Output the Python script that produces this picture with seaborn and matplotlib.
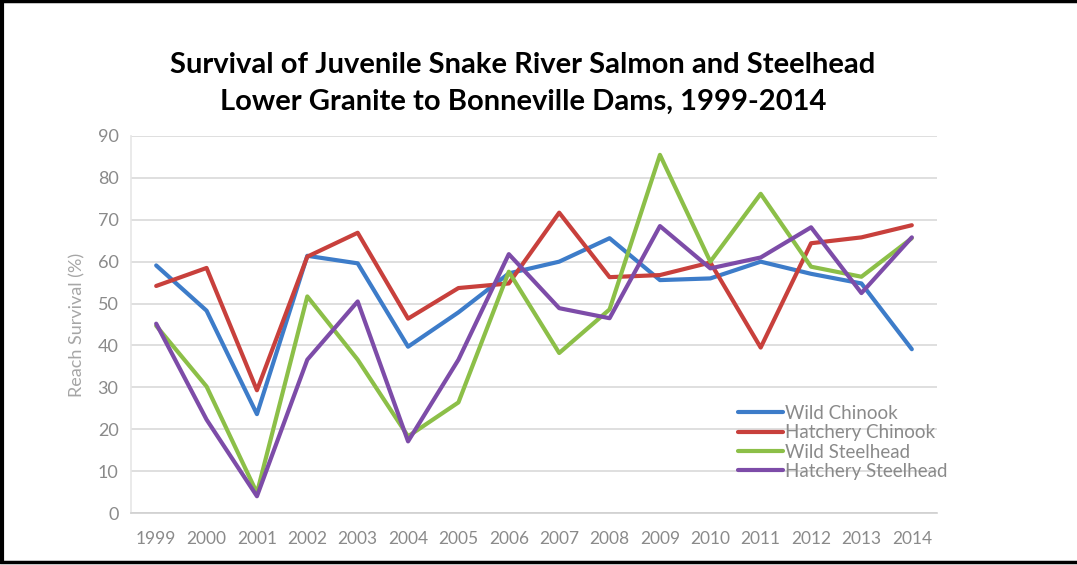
import matplotlib
matplotlib.use("Agg")
import matplotlib.pyplot as plt
import seaborn as sns
import pandas as pd
from matplotlib.lines import Line2D

years = [str(y) for y in range(1999, 2015)]
wild_chinook = [59.1, 48.3, 23.6, 61.4, 59.6, 39.7, 47.9, 57.2, 60.0, 65.6, 55.6, 56.0, 60.0, 57.1, 54.8, 39.1]
hatchery_chinook = [54.2, 58.5, 29.3, 61.2, 66.9, 46.4, 53.7, 54.8, 71.7, 56.3, 56.8, 59.8, 39.5, 64.4, 65.8, 68.7]
wild_steelhead = [44.7, 30.2, 4.8, 51.7, 36.6, 18.3, 26.4, 57.6, 38.2, 48.6, 85.5, 60.0, 76.2, 58.8, 56.4, 65.6]
hatchery_steelhead = [45.2, 22.3, 4.0, 36.6, 50.5, 17.1, 36.6, 61.8, 48.9, 46.5, 68.5, 58.4, 61.0, 68.2, 52.5, 65.8]
series_names = ["Wild Chinook", "Hatchery Chinook", "Wild Steelhead", "Hatchery Steelhead"]
colors = ["#3D7CC9", "#C8403C", "#8CBF48", "#7D4CA8"]

frames = []
for name, vals in zip(series_names, [wild_chinook, hatchery_chinook, wild_steelhead, hatchery_steelhead]):
    frames.append(pd.DataFrame({"Year": years, "Survival": vals, "Series": name}))
df = pd.concat(frames, ignore_index=True)

sns.set_style("white")
plt.rcParams['font.family'] = ['Lato', 'DejaVu Sans']

fig = plt.figure(figsize=(10.77, 5.65), dpi=100)
ax = fig.add_axes([131/1077, 1-513/565, (937-131)/1077, (513-136)/565])

sns.lineplot(data=df, x="Year", y="Survival", hue="Series", hue_order=series_names,
             palette=colors, linewidth=3, ax=ax, legend=False, sort=False, zorder=3)

ax.set_xlim(-0.5, 15.5)
ax.set_ylim(0, 90)
ax.set_yticks(range(0, 91, 10))
ax.yaxis.grid(True, color="#D9D9D9", linewidth=1.2, zorder=0)
ax.set_axisbelow(True)
for s in ["top", "right"]:
    ax.spines[s].set_visible(False)
ax.spines["bottom"].set_color("#D0D0D0")
ax.spines["bottom"].set_linewidth(1.2)
ax.spines["left"].set_color("#E6E6E6")
ax.spines["left"].set_linewidth(1.2)

# x ticks: labels at centers, tick marks at boundaries
ax.set_xticks(range(16))
ax.set_xticklabels(years)
ax.set_xticks([i - 0.5 for i in range(17)], minor=True)
ax.tick_params(axis="x", which="major", length=0, pad=13, labelsize=12.5, labelcolor="#8A8A8A")
ax.tick_params(axis="x", which="minor", length=6, width=1.2, color="#D0D0D0", direction="out")
ax.tick_params(axis="y", length=0, pad=9, labelsize=13, labelcolor="#8A8A8A")

ax.set_xlabel("")
ax.set_ylabel("Reach Survival (%)", color="#A6A6A6", fontsize=13, labelpad=9)

handles = [Line2D([0], [0], color=c, linewidth=3) for c in colors]
leg = ax.legend(handles, series_names, loc="upper left", bbox_to_anchor=(607/806, 1-(405-136)/377),
                frameon=False, handlelength=2.4, handletextpad=0.1, labelspacing=0.12,
                prop={"size": 13.5}, borderaxespad=0, borderpad=0)
for t in leg.get_texts():
    t.set_color("#8A8A8A")

fig.text(523/1077, 1-65/565, "Survival of Juvenile Snake River Salmon and Steelhead",
         ha="center", va="center", fontsize=21, fontweight="bold", color="black")
fig.text(523/1077, 1-102/565, "Lower Granite to Bonneville Dams, 1999-2014",
         ha="center", va="center", fontsize=21, fontweight="bold", color="black")

# outer border (top, left, bottom)
fig.add_artist(Line2D([0, 1], [1-1/565, 1-1/565], color="black", linewidth=2.5, transform=fig.transFigure))
fig.add_artist(Line2D([1.5/1077, 1.5/1077], [1-562/565, 1], color="black", linewidth=3, transform=fig.transFigure))
fig.add_artist(Line2D([0, 1], [1-562/565, 1-562/565], color="black", linewidth=2.5, transform=fig.transFigure))

fig.savefig("out.png", dpi=100, facecolor="white")
